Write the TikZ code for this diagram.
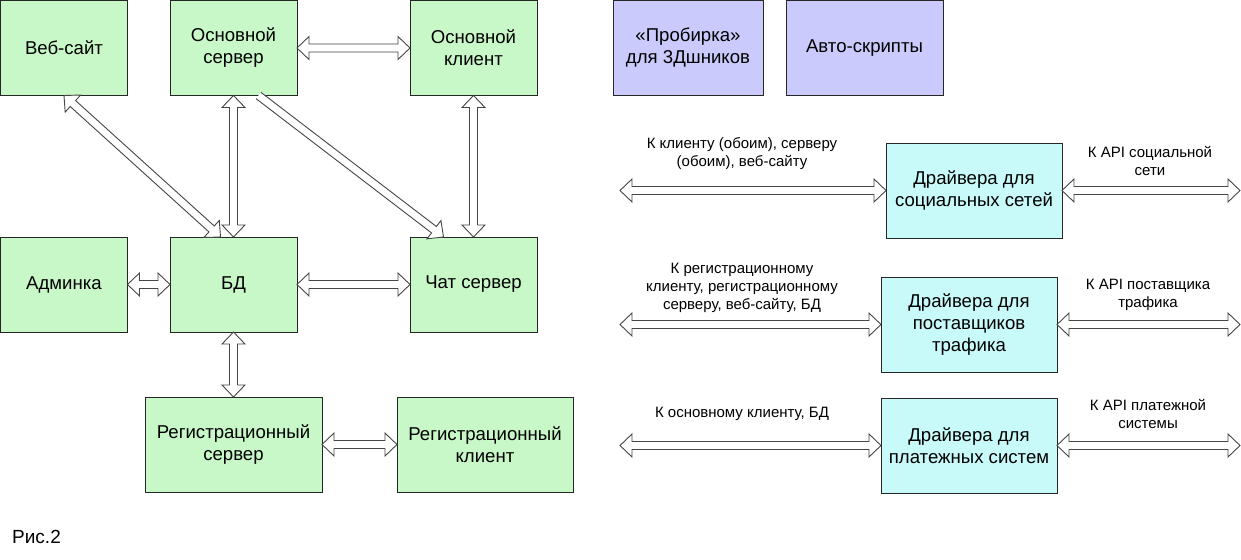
\documentclass[tikz,border=0pt]{standalone}
\usepackage{fontspec}
\setmainfont{Liberation Sans}
\usetikzlibrary{calc}
\definecolor{boxgreen}{RGB}{200,247,200}
\definecolor{boxlav}{RGB}{202,202,252}
\definecolor{boxcyan}{RGB}{200,250,250}
\definecolor{arrgray}{RGB}{70,70,70}
\tikzset{
  box/.style={draw=black!85, line width=0.9pt, inner sep=0pt, outer sep=0pt,
    minimum width=127pt, minimum height=95pt, anchor=north west, align=center,
    font=\fontsize{18.6}{22}\selectfont},
  gbox/.style={box, fill=boxgreen},
  lbox/.style={box, fill=boxlav},
  cbox/.style={box, fill=boxcyan, minimum width=176pt},
  lbl/.style={align=center, font=\fontsize{15}{18}\selectfont, inner sep=0pt},
  barrow/.style={draw=arrgray, line width=0.9pt, fill=white, line join=miter}
}
\newcommand\dbar[2]{\filldraw[barrow] (#1)
 -- ($(#1)!12pt!(#2)!11.5pt!90:(#2)$)
 -- ($(#1)!12pt!(#2)!4pt!90:(#2)$)
 -- ($(#2)!12pt!(#1)!4pt!-90:(#1)$)
 -- ($(#2)!12pt!(#1)!11.5pt!-90:(#1)$)
 -- (#2)
 -- ($(#2)!12pt!(#1)!11.5pt!90:(#1)$)
 -- ($(#2)!12pt!(#1)!4pt!90:(#1)$)
 -- ($(#1)!12pt!(#2)!4pt!-90:(#2)$)
 -- ($(#1)!12pt!(#2)!11.5pt!-90:(#2)$)
 -- cycle;}
\newcommand\sbar[2]{\filldraw[barrow] ($(#1)!4pt!90:(#2)$)
 -- ($(#2)!12pt!(#1)!4pt!-90:(#1)$)
 -- ($(#2)!12pt!(#1)!11.5pt!-90:(#1)$)
 -- (#2)
 -- ($(#2)!12pt!(#1)!11.5pt!90:(#1)$)
 -- ($(#2)!12pt!(#1)!4pt!90:(#1)$)
 -- ($(#1)!4pt!-90:(#2)$);}
\begin{document}
\begin{tikzpicture}[x=1pt,y=-1pt]
\useasboundingbox[fill=white] (0,0) rectangle (1241,559);
% left part
\node[gbox] (web) at (0.5,0.5) {Веб-сайт};
\node[gbox] (srv) at (170,0.5) {Основной\\сервер};
\node[gbox] (cli) at (410,0.5) {Основной\\клиент};
\node[gbox] (adm) at (0.5,237) {Админка};
\node[gbox] (bd) at (170,237) {БД};
\node[gbox] (chat) at (410,237) {Чат сервер};
\node[gbox, minimum width=177pt] (reg) at (145,397) {Регистрационный\\сервер};
\node[gbox, minimum width=176pt] (rcl) at (397,397) {Регистрационный\\клиент};
% top right
\node[lbox, minimum width=150pt] (prob) at (613,0.5) {«Пробирка»\\для 3Дшников};
\node[lbox, minimum width=157pt] (auto) at (786,0.5) {Авто-скрипты};
% drivers
\node[cbox] (soc) at (886,143) {Драйвера для\\социальных сетей};
\node[cbox] (trf) at (881,277) {Драйвера для\\поставщиков\\трафика};
\node[cbox] (pay) at (881,398) {Драйвера для\\платежных систем};
% connector endpoints
\coordinate (webS) at (web.south);
\coordinate (bdNW) at ($(bd.north)+(-13,0)$);
\coordinate (srvSE) at ($(srv.south)+(25,0)$);
\coordinate (chatNW) at ($(chat.north)+(-30,0)$);
\coordinate (socL) at (620,0 |- soc.west);
\coordinate (socR) at (1240,0 |- soc.east);
\coordinate (trfL) at (620,0 |- trf.west);
\coordinate (trfR) at (1240,0 |- trf.east);
\coordinate (payL) at (620,0 |- pay.west);
\coordinate (payR) at (1240,0 |- pay.east);
% connectors
\dbar{srv.east}{cli.west}
\dbar{webS}{bdNW}
\dbar{srv.south}{bd.north}
\sbar{srvSE}{chatNW}
\dbar{cli.south}{chat.north}
\dbar{adm.east}{bd.west}
\dbar{bd.east}{chat.west}
\dbar{bd.south}{reg.north}
\dbar{reg.east}{rcl.west}
\dbar{socL}{soc.west}
\dbar{soc.east}{socR}
\dbar{trfL}{trf.west}
\dbar{trf.east}{trfR}
\dbar{payL}{pay.west}
\dbar{pay.east}{payR}
% labels
\node[lbl] (l1) at (742,154) {К клиенту (обоим), серверу\\(обоим), веб-сайту};
\node[lbl] (r1) at (1150,161) {К API социальной\\сети};
\node[lbl] (l2) at (742,288) {К регистрационному\\клиенту, регистрационному\\серверу, веб-сайту, БД};
\node[lbl] (r2) at (1148,295) {К API поставщика\\трафика};
\node[lbl] (l3) at (742,414) {К основному клиенту, БД};
\node[lbl] (r3) at (1148,414) {К API платежной\\системы};
\node[anchor=west, inner sep=0pt, font=\fontsize{19}{22}\selectfont] (fig) at (12,537) {Рис.2};
\end{tikzpicture}
\end{document}
